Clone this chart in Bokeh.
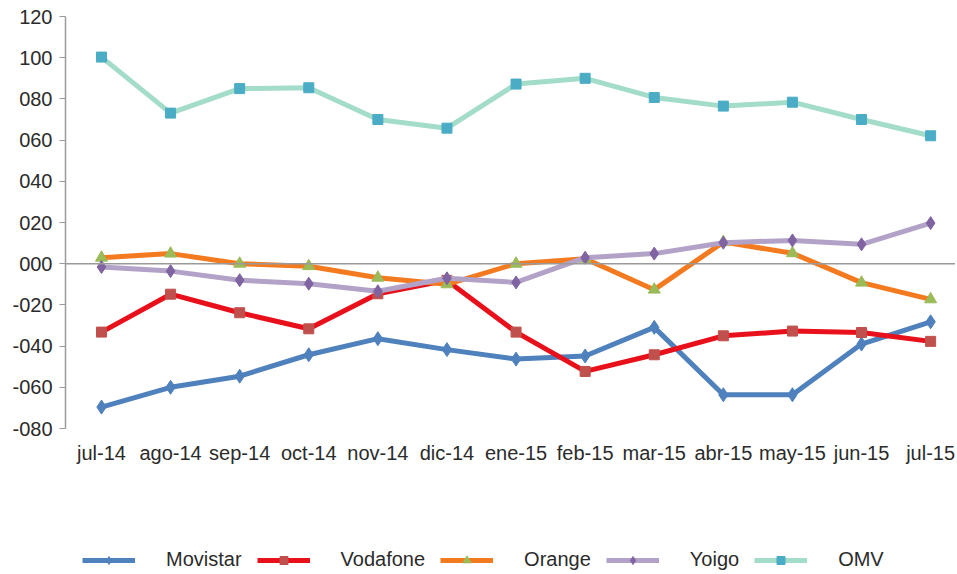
from bokeh.plotting import figure
from bokeh.models import (Range1d, FixedTicker, CustomJSTickFormatter, Span, Legend, LegendItem)
from bokeh.embed import file_html
from bokeh.resources import INLINE

months = ["jul-14", "ago-14", "sep-14", "oct-14", "nov-14", "dic-14", "ene-15",
          "feb-15", "mar-15", "abr-15", "may-15", "jun-15", "jul-15"]

movistar = [-69.6, -60.0, -54.6, -44.2, -36.4, -41.7, -46.3, -44.8, -30.9, -63.6, -63.6, -39.0, -28.2]
vodafone = [-33.2, -14.8, -23.8, -31.6, -14.6, -8.1, -33.2, -52.3, -44.2, -35.0, -32.7, -33.4, -37.7]
orange = [2.9, 4.9, 0.0, -1.2, -6.8, -10.0, 0.0, 2.4, -12.6, 10.5, 5.1, -9.2, -17.3]
yoigo = [-1.6, -3.6, -8.0, -9.7, -13.4, -7.1, -9.1, 2.9, 4.9, 10.2, 11.3, 9.4, 19.7]
omv = [100.3, 73.1, 85.0, 85.4, 70.0, 65.8, 87.2, 90.0, 80.7, 76.5, 78.4, 70.0, 62.1]

y_ticks = [-80, -60, -40, -20, 0, 20, 40, 60, 80, 100, 120]

series = [
    ("Movistar", movistar, "#4F81BD", "#4F81BD", "diamond", 14),
    ("Vodafone", vodafone, "#E8101A", "#C0504D", "square", 10),
    ("Orange", orange, "#F47A20", "#9BBB59", "triangle", 12),
    ("Yoigo", yoigo, "#B3A2C7", "#8064A2", "diamond", 13),
    ("OMV", omv, "#A3DCC8", "#4BACC6", "square", 10),
]

FONT = "Liberation Sans"
TXT = "#2b2b2b"

# frame spans 16..572 px; value axis -80..120 occupies 16..428 px
p = figure(width=955, height=572, output_backend="svg", toolbar_location=None,
           x_range=Range1d(-0.521, 12.36), y_range=Range1d(-149.9, 120),
           min_border_left=65, min_border_top=16, min_border_right=0, min_border_bottom=0)
p.outline_line_color = None
p.xgrid.visible = False
p.ygrid.visible = False
p.background_fill_color = "white"
p.border_fill_color = "white"

xs = list(range(len(months)))

# x axis (category labels sit under the -80 level)
p.xaxis.fixed_location = -80
p.xaxis.ticker = FixedTicker(ticks=xs)
p.xaxis.major_label_overrides = {i: m for i, m in enumerate(months)}
p.xaxis.axis_line_color = None
p.xaxis.major_tick_line_color = None
p.xaxis.minor_tick_line_color = None
p.xaxis.major_tick_out = 0
p.xaxis.major_label_standoff = 13
p.xaxis.major_label_text_font = FONT
p.xaxis.major_label_text_font_size = "20px"
p.xaxis.major_label_text_color = TXT

# y axis
p.yaxis.bounds = (-80, 120)
p.yaxis.ticker = FixedTicker(ticks=y_ticks)
p.yaxis.formatter = CustomJSTickFormatter(code="""
const s = String(Math.abs(Math.round(tick))).padStart(3, '0');
return tick < 0 ? '-' + s : s;
""")
p.yaxis.axis_line_color = "#9a9a9a"
p.yaxis.axis_line_width = 1.5
p.yaxis.major_tick_line_color = "#9a9a9a"
p.yaxis.major_tick_out = 6
p.yaxis.major_tick_in = 0
p.yaxis.minor_tick_line_color = None
p.yaxis.major_label_standoff = 7
p.yaxis.major_label_text_font = FONT
p.yaxis.major_label_text_font_size = "20px"
p.yaxis.major_label_text_color = TXT

p.add_layout(Span(location=0, dimension="width", line_color="#9a9a9a", line_width=1.5))

items = []
for name, vals, lc, mc, marker, size in series:
    r1 = p.line(xs, vals, line_color=lc, line_width=5, line_join="round")
    r2 = p.scatter(xs, vals, marker=marker, size=size, fill_color=mc, line_color=mc)
    items.append(LegendItem(label=name, renderers=[r1, r2]))

legend = Legend(items=items, orientation="horizontal", location=(17, 1),
                glyph_width=53, glyph_height=20, label_standoff=31, spacing=15,
                padding=0, margin=0, border_line_color=None, background_fill_alpha=0,
                label_text_font=FONT, label_text_font_size="20px", label_text_color=TXT)
p.add_layout(legend, "center")

open("out.html", "w").write(file_html(p, INLINE))
